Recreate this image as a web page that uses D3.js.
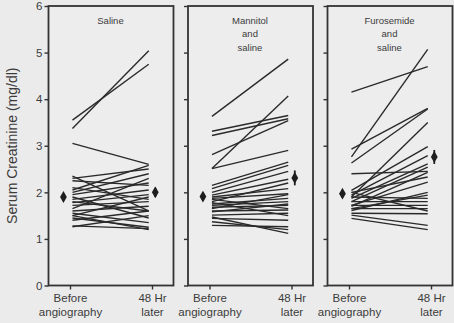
<!DOCTYPE html>
<html>
<head>
<meta charset="utf-8">
<script src="https://cdn.jsdelivr.net/npm/d3@7"></script>
<style>
  html, body { margin: 0; padding: 0; background: #ebebeb; }
  svg { display: block; }
  text { font-family: "Liberation Sans", Arial, sans-serif; fill: #3c3c3c; }
</style>
</head>
<body>
<svg id="chart" width="454" height="323"></svg>
<script>
// Treatment groups and their panel titles
const groups = ["Saline", "Mannitol and saline", "Furosemide and saline"];
const titleLines = [["Saline"], ["Mannitol", "and", "saline"], ["Furosemide", "and", "saline"]];

// Serum creatinine (mg/dl) for each patient, before angiography and 48 hours later
const salineBefore = [3.37, 3.55, 3.05, 2.35, 2.30, 2.05, 2.10, 2.00, 1.95, 1.90, 1.85, 1.78, 1.72, 1.65, 1.60, 1.55, 1.50, 1.45, 1.40, 1.28, 1.26, 1.50, 2.25, 1.80];
const salineAfter  = [5.04, 4.75, 2.60, 1.60, 2.50, 2.58, 1.85, 2.40, 2.20, 1.45, 2.05, 1.95, 1.80, 2.30, 1.70, 1.35, 1.90, 1.25, 1.60, 1.22, 1.50, 1.20, 2.15, 1.60];

const mannitolBefore = [3.63, 2.51, 3.31, 3.22, 2.81, 2.51, 2.15, 2.08, 2.00, 1.94, 1.90, 1.87, 1.80, 1.75, 1.72, 1.68, 1.65, 1.60, 1.58, 1.51, 1.47, 1.44, 1.37, 1.29, 1.78, 1.85];
const mannitolAfter  = [4.86, 4.07, 3.65, 3.58, 3.54, 2.90, 2.65, 2.58, 2.45, 2.28, 2.08, 1.97, 2.20, 1.87, 1.80, 1.72, 1.95, 1.62, 1.75, 1.55, 1.12, 1.40, 1.20, 1.26, 1.50, 1.65];

const furosemideBefore = [4.15, 2.76, 2.93, 2.63, 1.90, 2.04, 2.40, 1.94, 1.87, 1.80, 2.00, 1.72, 1.61, 1.65, 1.90, 1.80, 1.72, 1.65, 1.51, 1.44, 1.55, 1.70, 2.00];
const furosemideAfter  = [4.70, 5.07, 3.80, 3.79, 3.50, 2.98, 2.45, 2.79, 2.61, 2.54, 2.33, 2.22, 2.00, 1.94, 1.87, 1.80, 1.72, 1.65, 1.29, 1.20, 1.54, 2.43, 1.60];

// Group means with standard errors
const meanBefore = [1.90, 1.91, 1.97];
const meanAfter  = [2.00, 2.31, 2.76];
const seBefore   = [0.07, 0.08, 0.08];
const seAfter    = [0.10, 0.16, 0.15];

// Axis labels
const yTicks = [0, 1, 2, 3, 4, 5, 6];
const timeLabels = [["Before", "angiography"], ["48 Hr", "later"]];
const yTitle = "Serum Creatinine (mg/dl)";

const befores = [salineBefore, mannitolBefore, furosemideBefore];
const afters  = [salineAfter, mannitolAfter, furosemideAfter];

const svg = d3.select("#chart");
const ink = "#333";

const y = d3.scaleLinear().domain([0, 6]).range([285.5, 6]);
const panel = d3.scaleBand().domain(groups).range([48, 452]).paddingInner(0.104).paddingOuter(0);
const bw = panel.bandwidth();
// position within a panel: 0 = before angiography, 1 = 48 hr later
const t = d3.scaleLinear().domain([0, 1]).range([22, 104]);

groups.forEach((g, i) => {
  const gp = svg.append("g").attr("transform", `translate(${panel(g)},0)`);

  // left axis ticks (labels only on the first panel)
  const yAxis = d3.axisLeft(y).tickValues(yTicks).tickSize(4).tickPadding(2)
    .tickFormat(i === 0 ? d3.format("d") : () => "");
  const ya = gp.append("g").attr("transform", "translate(0.5,0)").call(yAxis);
  ya.select(".domain").remove();
  ya.selectAll("line").attr("stroke", ink).attr("stroke-width", 1.4);
  ya.selectAll("text").style("font-size", "11.5px").attr("fill", "#3c3c3c");

  // bottom axis ticks with two-line labels
  const xAxis = d3.axisBottom(t).tickValues([0, 1]).tickSize(4).tickFormat(() => "");
  const xa = gp.append("g").attr("transform", `translate(0,${y(0)})`).call(xAxis);
  xa.select(".domain").remove();
  xa.selectAll("line").attr("stroke", ink).attr("stroke-width", 1.4);
  xa.selectAll(".tick").each(function (d) {
    const lab = d3.select(this).append("text").attr("text-anchor", "middle")
      .style("font-size", "11.5px").attr("fill", "#3c3c3c");
    timeLabels[d].forEach((s, k) => {
      lab.append("tspan").attr("x", 0).attr("y", 16.5 + k * 13.5).text(s);
    });
  });

  // panel frame
  gp.append("rect")
    .attr("x", 0.5).attr("y", y(6)).attr("width", bw).attr("height", y(0) - y(6))
    .attr("fill", "#ededed").attr("stroke", ink).attr("stroke-width", 1.8);

  // panel title
  const title = gp.append("text").attr("text-anchor", "middle").style("font-size", "9.5px").attr("fill", "#4a4a4a");
  titleLines[i].forEach((s, k) => {
    title.append("tspan").attr("x", bw / 2).attr("y", 24 + k * 13.3).text(s);
  });

  // one line per patient
  const pairs = d3.zip(befores[i], afters[i]);
  gp.append("g").selectAll("line").data(pairs).join("line")
    .attr("x1", t(0.03)).attr("x2", t(0.96))
    .attr("y1", d => y(d[0])).attr("y2", d => y(d[1]))
    .attr("stroke", "#2a2a2a").attr("stroke-width", 1.4);

  // group means with error bars
  const means = [
    { x: -0.08, m: meanBefore[i], se: seBefore[i] },
    { x: 1.04, m: meanAfter[i], se: seAfter[i] }
  ];
  const mg = gp.append("g").selectAll("g").data(means).join("g")
    .attr("transform", d => `translate(${t(d.x)},0)`);
  mg.append("line")
    .attr("x1", 0).attr("x2", 0)
    .attr("y1", d => y(d.m - d.se)).attr("y2", d => y(d.m + d.se))
    .attr("stroke", "#1e1e1e").attr("stroke-width", 1.8);
  mg.append("path")
    .attr("transform", d => `translate(0,${y(d.m)})`)
    .attr("d", d3.symbol(d3.symbolDiamond, 40))
    .attr("fill", "#1e1e1e");
});

// y axis title
svg.append("text")
  .attr("transform", `translate(17,${(y(0) + y(6)) / 2}) rotate(-90)`)
  .attr("text-anchor", "middle")
  .style("font-size", "14px")
  .attr("fill", "#3c3c3c")
  .text(yTitle);
</script>
</body>
</html>
